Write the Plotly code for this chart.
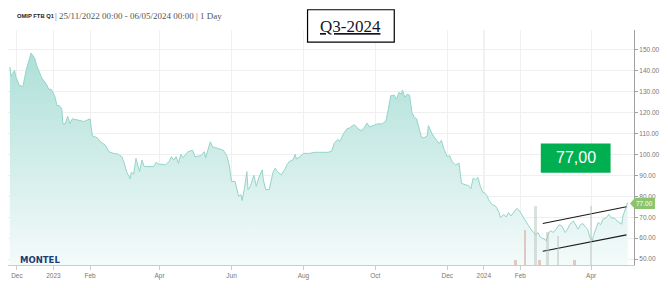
import plotly.graph_objects as go

# ---- data ----
dates = [
"2022-11-25","2022-11-26","2022-11-29","2022-11-30","2022-12-03","2022-12-06","2022-12-09","2022-12-13",
"2022-12-16","2022-12-18","2022-12-22","2022-12-26","2022-12-28","2022-12-30","2023-01-02","2023-01-04",
"2023-01-06","2023-01-08","2023-01-09","2023-01-11","2023-01-13","2023-01-15","2023-01-17","2023-01-22",
"2023-01-27","2023-01-30","2023-02-01","2023-02-03","2023-02-07","2023-02-10","2023-02-14","2023-02-17",
"2023-02-21","2023-02-25","2023-02-28","2023-03-02","2023-03-04","2023-03-07","2023-03-08","2023-03-10",
"2023-03-12","2023-03-13","2023-03-15","2023-03-17","2023-03-19","2023-03-23","2023-03-27","2023-03-29",
"2023-03-31","2023-04-03","2023-04-06","2023-04-09","2023-04-11","2023-04-13","2023-04-15","2023-04-17",
"2023-04-19","2023-04-21","2023-04-25","2023-04-29","2023-05-01","2023-05-06","2023-05-09","2023-05-10",
"2023-05-12","2023-05-14","2023-05-16","2023-05-20","2023-05-25","2023-05-28","2023-05-30","2023-06-01",
"2023-06-04","2023-06-05","2023-06-07","2023-06-09","2023-06-10","2023-06-12","2023-06-14","2023-06-15",
"2023-06-17","2023-06-20","2023-06-22","2023-06-24","2023-06-27","2023-06-28","2023-06-30","2023-07-03",
"2023-07-06","2023-07-08","2023-07-10","2023-07-13","2023-07-16","2023-07-18","2023-07-20","2023-07-23",
"2023-07-25","2023-07-26","2023-07-29","2023-08-01","2023-08-06","2023-08-11","2023-08-17","2023-08-22",
"2023-08-25","2023-08-27","2023-08-30","2023-09-01","2023-09-04","2023-09-07","2023-09-09","2023-09-13",
"2023-09-16","2023-09-19","2023-09-22","2023-09-24","2023-09-26","2023-09-30","2023-10-03","2023-10-07",
"2023-10-10","2023-10-12","2023-10-14","2023-10-17","2023-10-19","2023-10-21","2023-10-23","2023-10-24",
"2023-10-26","2023-10-28","2023-10-30","2023-11-01","2023-11-03","2023-11-05","2023-11-07","2023-11-09",
"2023-11-11","2023-11-14","2023-11-15","2023-11-18","2023-11-21","2023-11-24","2023-11-26","2023-11-28",
"2023-12-01","2023-12-03","2023-12-05","2023-12-08","2023-12-11","2023-12-13","2023-12-16","2023-12-19",
"2023-12-21","2023-12-23","2023-12-25","2023-12-27","2023-12-29","2023-12-31","2024-01-02","2024-01-04",
"2024-01-05","2024-01-08","2024-01-11","2024-01-14","2024-01-15","2024-01-18","2024-01-20","2024-01-22",
"2024-01-24","2024-01-27","2024-01-29","2024-01-31","2024-02-02","2024-02-05","2024-02-08","2024-02-11",
"2024-02-14","2024-02-16","2024-02-18","2024-02-21","2024-02-23","2024-02-25","2024-02-27","2024-02-29",
"2024-03-03","2024-03-05","2024-03-07","2024-03-10","2024-03-12","2024-03-14","2024-03-17","2024-03-19",
"2024-03-21","2024-03-23","2024-03-25","2024-03-27","2024-03-29","2024-03-31","2024-04-02","2024-04-03",
"2024-04-05","2024-04-07","2024-04-09","2024-04-11","2024-04-14","2024-04-16","2024-04-18","2024-04-21",
"2024-04-23","2024-04-25","2024-04-27","2024-04-28","2024-04-30","2024-05-01","2024-05-02",
]
prices = [
141.8,137.4,140.1,137.1,133.0,132.4,140.6,148.4,
146.0,142.1,136.6,133.5,131.1,131.1,128.0,123.3,
123.3,121.7,114.6,114.6,118.2,114.6,117.0,116.2,
115.7,116.5,117.0,108.8,108.0,106.0,104.4,101.3,
100.5,100.1,98.9,95.8,91.8,88.3,91.5,90.6,
98.1,95.8,91.8,97.3,94.2,94.2,94.2,96.2,
95.4,95.3,95.0,96.6,98.9,97.3,98.9,95.8,
100.0,98.4,101.3,102.0,98.9,99.4,101.3,98.4,
102.8,106.0,103.6,102.8,102.0,99.4,95.0,87.1,
87.1,84.8,80.0,80.8,78.0,84.0,91.8,83.2,
84.8,90.0,84.8,88.7,92.6,87.9,83.2,83.2,
91.0,93.4,91.8,90.2,92.6,95.0,96.6,97.3,
100.0,97.8,98.9,100.5,100.5,101.0,101.0,101.0,
101.6,105.2,107.1,106.3,109.9,112.3,112.6,114.2,
112.6,111.2,113.1,115.0,113.1,113.8,114.6,114.6,
116.2,121.7,128.0,128.3,126.4,129.6,128.8,130.7,
127.2,128.8,128.3,120.1,117.8,117.0,112.3,108.3,
107.9,108.8,113.8,109.9,107.5,105.2,106.7,102.8,
98.9,99.4,96.6,95.0,95.8,86.3,85.5,85.2,
83.6,88.7,87.9,89.0,84.8,82.0,81.5,80.0,
78.4,76.1,75.3,72.2,69.8,71.4,70.1,72.2,
70.6,73.0,74.2,73.3,71.4,68.2,65.9,63.5,
61.6,62.7,60.4,59.6,58.8,62.7,63.5,62.7,
65.1,66.4,65.9,62.7,64.3,66.7,68.2,66.4,
64.3,66.4,67.0,65.4,64.3,60.4,58.8,61.2,
64.3,67.5,66.4,69.0,69.8,71.4,69.8,69.5,
68.2,67.5,66.7,70.6,73.8,76.1,77.0,
]

vol_dates = ["2024-01-28","2024-02-05","2024-02-14","2024-02-17","2024-02-24","2024-03-04","2024-03-18","2024-04-01"]
vol_values = [2, 15, 25, 2, 14, 12.5, 2, 25]
vol_side = ["s", "s", "b", "s", "b", "b", "s", "b"]

upper_trend_x = ["2024-02-20", "2024-05-01"]
upper_trend_y = [67.0, 75.0]
lower_trend_x = ["2024-02-20", "2024-05-01"]
lower_trend_y = [53.8, 61.6]

x_tick_vals = ["2022-12-01","2023-01-01","2023-02-01","2023-04-01","2023-06-01","2023-08-01",
               "2023-10-01","2023-12-01","2024-01-01","2024-02-01","2024-04-01"]
x_tick_text = ["Dec","2023","Feb","Apr","Jun","Aug","Oct","Dec","2024","Feb","Apr"]
y_tick_vals = [50, 60, 70, 80, 90, 100, 110, 120, 130, 140, 150]
y_tick_text = ["%.2f" % v for v in y_tick_vals]
year_lines = ["2023-01-01", "2024-01-01"]

header_name = "OMIP FTB Q1"
header_rest = "| 25/11/2022 00:00 - 06/05/2024 00:00 | 1 Day"
box_title = "Q3-2024"
big_label = "77,00"
last_label = "77.00"
logo = "MONTEL"

# ---- layout geometry (pixels) ----
W, H = 668, 288
ML, MR, MT, MB = 8, 32, 30, 20
PW, PH = W - ML - MR, H - MT - MB

def px(x):
    return (x - ML) / PW

def py(y):
    return (H - MB - y) / PH

fig = go.Figure()

fig.add_trace(go.Scatter(
    x=dates, y=prices, mode="lines",
    line=dict(color="#93d5ca", width=1),
    fill="tozeroy",
    fillgradient=dict(type="vertical",
                      colorscale=[[0, "#f5fbfb"], [1, "#addfd7"]],
                      start=47, stop=150),
    hoverinfo="skip", showlegend=False,
))

bar_colors = ["rgba(210,160,150,0.55)" if s == "s" else "rgba(175,190,180,0.45)" for s in vol_side]
fig.add_trace(go.Bar(
    x=vol_dates, y=vol_values, yaxis="y2",
    marker=dict(color=bar_colors, line=dict(width=0)),
    width=[2.2 * 86400000] * len(vol_dates),
    hoverinfo="skip", showlegend=False,
))

for tx, ty in ((upper_trend_x, upper_trend_y), (lower_trend_x, lower_trend_y)):
    fig.add_trace(go.Scatter(x=tx, y=ty, mode="lines",
                             line=dict(color="#1a1a1a", width=1.1),
                             hoverinfo="skip", showlegend=False))

shapes = []
for d in year_lines:
    shapes.append(dict(type="line", xref="x", yref="paper", x0=d, x1=d, y0=0, y1=1,
                       line=dict(color="#d6d6d6", width=1), layer="below"))
# title box
shapes.append(dict(type="rect", xref="paper", yref="paper",
                   x0=px(308.5), x1=px(395.5), y0=py(42.3), y1=py(9.5),
                   line=dict(color="#000", width=1.2), fillcolor="white", layer="above"))
# green value box
shapes.append(dict(type="rect", xref="paper", yref="paper",
                   x0=px(542.5), x1=px(612.5), y0=py(174.5), y1=py(145),
                   line=dict(width=0), fillcolor="#00b050", layer="above"))
# last price tag
tag = "M %f,%f L %f,%f L %f,%f L %f,%f L %f,%f Z" % (
    px(632), py(205.7), px(637), py(200), px(657), py(200), px(657), py(211.4), px(637), py(211.4))
shapes.append(dict(type="path", xref="paper", yref="paper", path=tag,
                   line=dict(width=0), fillcolor="#8cc46e", layer="above"))

annotations = [
    dict(xref="paper", yref="paper", x=px(15), y=py(16), xanchor="left", yanchor="middle",
         text="<b>%s</b>" % header_name, showarrow=False,
         font=dict(family="Liberation Sans", size=5.8, color="#222")),
    dict(xref="paper", yref="paper", x=px(53.5), y=py(16), xanchor="left", yanchor="middle",
         text=header_rest, showarrow=False,
         font=dict(family="Liberation Serif", size=9.0, color="#555")),
    dict(xref="paper", yref="paper", x=px(352), y=py(26.5), xanchor="center", yanchor="middle",
         text="<u>%s</u>" % box_title, showarrow=False,
         font=dict(family="Liberation Serif", size=17, color="#15152a")),
    dict(xref="paper", yref="paper", x=px(577.5), y=py(159.5), xanchor="center", yanchor="middle",
         text=big_label, showarrow=False,
         font=dict(family="Liberation Sans", size=16, color="white")),
    dict(xref="paper", yref="paper", x=px(647), y=py(205.9), xanchor="center", yanchor="middle",
         text=last_label, showarrow=False,
         font=dict(family="Liberation Sans", size=6.5, color="white")),
    dict(xref="paper", yref="paper", x=px(18), y=py(263), xanchor="left", yanchor="middle",
         text="<b>%s</b>" % logo, showarrow=False,
         font=dict(family="DejaVu Sans", size=8.5, color="#1f3b73")),
]

fig.update_layout(
    width=W, height=H,
    margin=dict(l=ML, r=MR, t=MT, b=MB),
    paper_bgcolor="white", plot_bgcolor="white",
    showlegend=False, hovermode=False, bargap=0,
    xaxis=dict(
        type="date",
        range=["2022-11-23 10:00", "2024-05-07 09:00"],
        tickvals=x_tick_vals, ticktext=x_tick_text,
        showgrid=True, gridcolor="#f0f0f0", gridwidth=1,
        showline=True, linecolor="#cccccc", linewidth=1,
        ticks="outside", ticklen=4, tickcolor="#cccccc",
        tickfont=dict(family="Liberation Sans", size=6.5, color="#777"),
        zeroline=False, fixedrange=True,
    ),
    yaxis=dict(
        side="right", range=[47.2, 159.4],
        tickvals=y_tick_vals, ticktext=y_tick_text,
        showgrid=True, gridcolor="#efefef", gridwidth=1,
        showline=True, linecolor="#a0a0a0", linewidth=1,
        ticks="outside", ticklen=3, tickcolor="#a0a0a0",
        tickfont=dict(family="Liberation Sans", size=6.5, color="#777"),
        zeroline=False, fixedrange=True,
    ),
    yaxis2=dict(overlaying="y", range=[0, 100], visible=False, fixedrange=True),
    shapes=shapes,
    annotations=annotations,
)

fig.write_html("out.html")
